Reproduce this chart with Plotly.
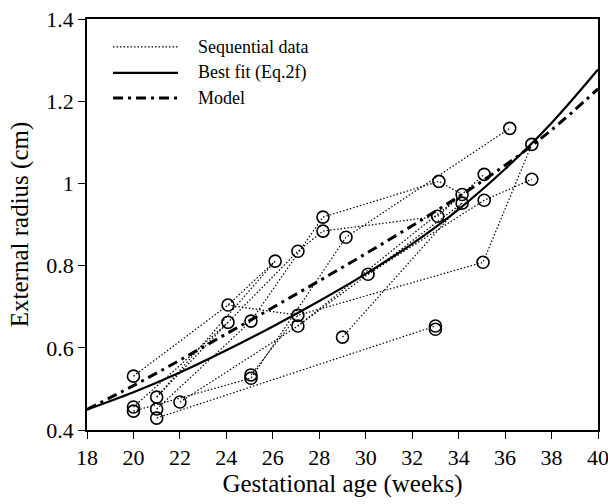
import plotly.graph_objects as go

# ---- data ----
ages = [20.0, 20.0, 20.0, 21.0, 21.0, 21.0, 22.0, 24.07, 24.07, 25.06, 25.06, 25.06,
        26.1, 27.08, 27.08, 27.08, 28.16, 28.16, 29.15, 29.0, 30.1, 33.15, 33.1, 33.0,
        33.0, 34.15, 34.15, 35.1, 35.1, 35.05, 36.2, 37.15, 37.15]
radii = [0.531, 0.456, 0.446, 0.480, 0.451, 0.429, 0.468, 0.704, 0.662, 0.665, 0.534, 0.526,
         0.811, 0.835, 0.679, 0.653, 0.918, 0.884, 0.869, 0.626, 0.779, 1.005, 0.920, 0.653,
         0.645, 0.973, 0.952, 1.022, 0.959, 0.808, 1.134, 1.095, 1.010]
# sequences of point indices (connected in time order)
sequences = [
    [0, 7, 12],
    [1, 8, 13, 17, 22, 27],
    [4, 9, 16, 21, 25],
    [10, 14, 29, 31],
    [6, 15, 20, 28, 32],
    [5, 23],
    [19, 26],
    [2, 11, 18, 30],
    [3, 12],
    [7, 14],
    [15, 25],
    [20, 26],
    [3, 8],
]
fit_x = [18, 20, 22, 24, 26, 28, 30, 32, 34, 36, 38, 40]
fit_y = [0.45, 0.492, 0.54, 0.594, 0.652, 0.714, 0.78, 0.853, 0.937, 1.035, 1.147, 1.277]
model_x = [18, 20, 22, 24, 26, 28, 30, 32, 34, 36, 38, 40]
model_y = [0.45, 0.508, 0.57, 0.634, 0.698, 0.763, 0.829, 0.897, 0.968, 1.044, 1.13, 1.23]
x_ticks = [18, 20, 22, 24, 26, 28, 30, 32, 34, 36, 38, 40]
y_ticks = [0.4, 0.6, 0.8, 1.0, 1.2, 1.4]
y_ticktext = ["0.4", "0.6", "0.8", "1", "1.2", "1.4"]
legend_labels = ["Sequential data", "Best fit (Eq.2f)", "Model"]

FONT = "Liberation Serif, Times New Roman, serif"

fig = go.Figure()

for k, seq in enumerate(sequences):
    fig.add_trace(go.Scatter(
        x=[ages[i] for i in seq], y=[radii[i] for i in seq],
        mode="lines", line=dict(color="black", width=1.2, dash="1.5px,2px"),
        name=legend_labels[0], showlegend=False, hoverinfo="skip"))

fig.add_trace(go.Scatter(x=fit_x, y=fit_y, mode="lines", name=legend_labels[1],
                         line=dict(color="black", width=2.2, shape="spline"),
                         showlegend=False))
fig.add_trace(go.Scatter(x=model_x, y=model_y, mode="lines", name=legend_labels[2],
                         line=dict(color="black", width=3, shape="spline",
                                   dash="10px,5px,3px,5px"),
                         showlegend=False))

fig.add_trace(go.Scatter(x=ages, y=radii, mode="markers", name="data",
                         marker=dict(symbol="circle-open", size=12, color="black",
                                     line=dict(width=1.6, color="black")),
                         showlegend=False))

# manual legend (longer line samples, as in the original)
leg_y = [0.932, 0.869, 0.808]
leg_dash = ["1.5px,2px", "solid", "10px,5px,3px,5px"]
leg_w = [1.2, 2.2, 3]
for lab, yy, d, w in zip(legend_labels, leg_y, leg_dash, leg_w):
    fig.add_shape(type="line", xref="paper", yref="paper", x0=0.051, x1=0.178, y0=yy, y1=yy,
                  line=dict(color="black", width=w, dash=d))
    fig.add_annotation(xref="paper", yref="paper", x=0.213, y=yy, text=lab, showarrow=False,
                       xanchor="left", yanchor="middle",
                       font=dict(family=FONT, size=18, color="black"))

axis_common = dict(showline=True, linecolor="black", linewidth=1.5, mirror=True,
                   ticks="outside", ticklen=7, tickwidth=1.3, tickcolor="black",
                   showgrid=False, zeroline=False, automargin=False,
                   ticklabeloverflow="allow",
                   tickfont=dict(family=FONT, size=22, color="black"))

fig.update_xaxes(range=[18, 40], tickvals=x_ticks,
                 title=dict(text="Gestational age (weeks)", standoff=2,
                            font=dict(family=FONT, size=25, color="black")),
                 **axis_common)
fig.update_yaxes(range=[0.4, 1.4], tickvals=y_ticks, ticktext=y_ticktext,
                 title=dict(text="External radius (cm)", standoff=11,
                            font=dict(family=FONT, size=25, color="black")),
                 **axis_common)

fig.update_layout(width=608, height=504, margin=dict(l=87, r=10, t=19, b=74),
                  font=dict(family=FONT, color="black"),
                  paper_bgcolor="white", plot_bgcolor="white", showlegend=False)

fig.write_html("out.html")
